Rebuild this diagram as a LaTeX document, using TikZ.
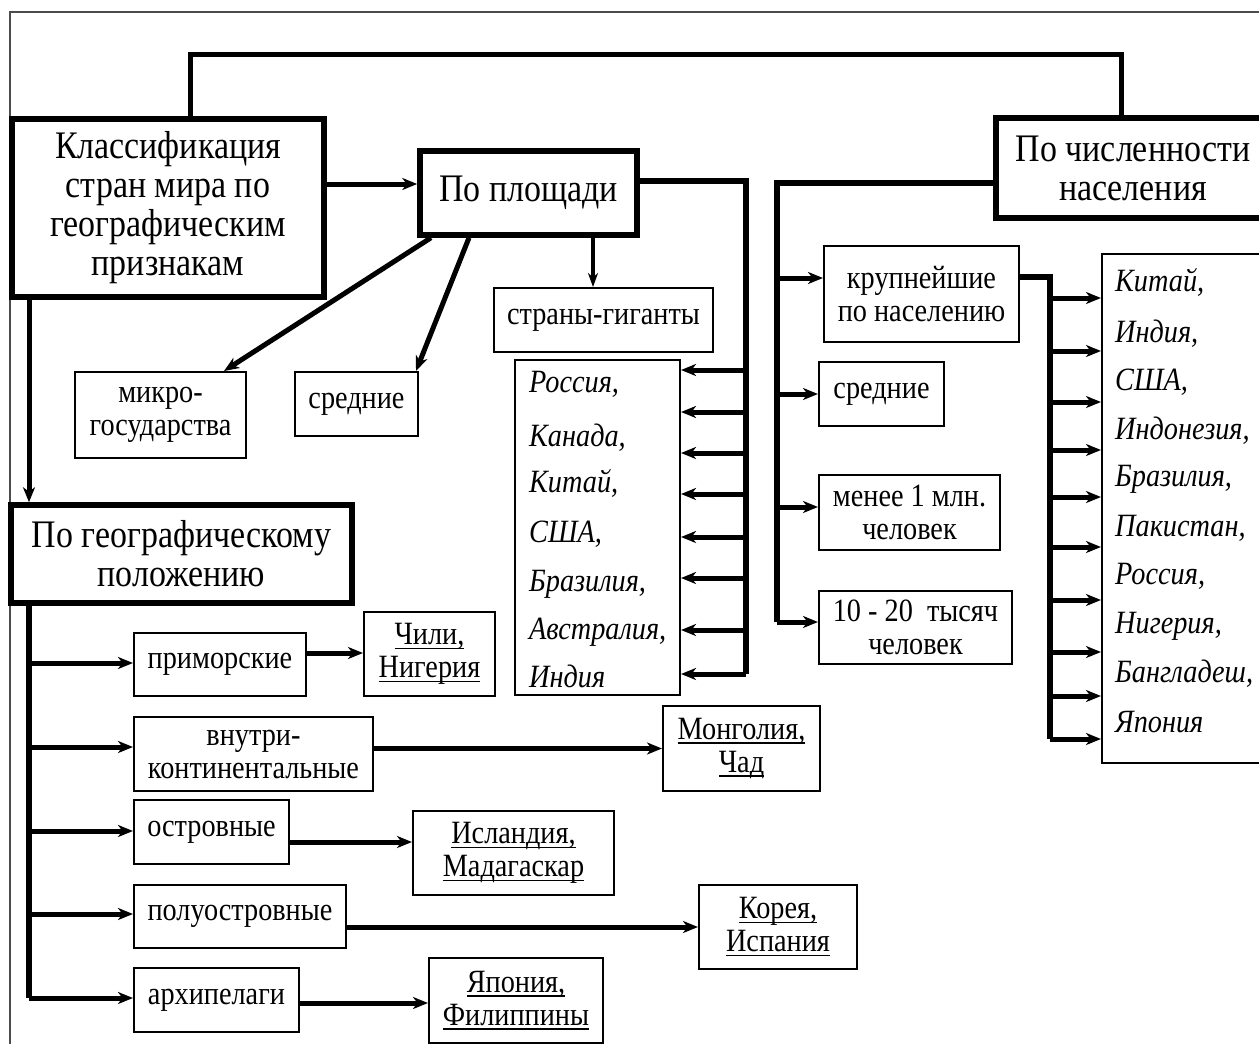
\documentclass[tikz,border=0pt]{standalone}
\usepackage{fontspec}
\setmainfont{Liberation Serif}[FakeStretch=0.87]
\usetikzlibrary{arrows.meta}
\newcommand\myul[1]{\setbox0\hbox{#1}\rlap{\rule[-4.5pt]{\wd0}{1.6pt}}\box0}
\begin{document}
\begin{tikzpicture}[x=1pt,y=-1pt,
  bigbox/.style={draw, line width=5.5pt, inner sep=0pt, align=center, font=\fontsize{39}{39}\selectfont},
  smallbox/.style={draw, line width=2pt, inner sep=0pt, align=center, font=\fontsize{32.5}{33}\selectfont},
  item/.style={anchor=base west, inner sep=0pt, font=\fontsize{32.5}{33}\selectfont\itshape},
  wire/.style={line width=5pt},
  bus/.style={line width=5.5pt},
  arr/.style={line width=5pt, -{Stealth[length=15pt,width=12pt,inset=4.5pt]}},
  thinarr/.style={line width=3.5pt, -{Stealth[length=14pt,width=10pt,inset=4.5pt]}},
]
\useasboundingbox (0,0) rectangle (1259,1044);
\clip (0,0) rectangle (1259,1044);
\draw[line width=2pt, black!70] (10,12) rectangle (1300,1100);

% main boxes
\node[bigbox, minimum width=312pt, minimum height=178pt] (main) at (168,208) {Классификация\\стран мира по\\географическим\\признакам};
\node[bigbox, minimum width=217pt, minimum height=84pt] (area) at (528.5,193) {По площади};
\node[bigbox, minimum width=274pt, minimum height=100pt] (pop) at (1133,168) {По численности\\населения};
\node[bigbox, minimum width=341pt, minimum height=98pt] (geo) at (181.5,554) {По географическому\\положению};

% area branch
\node[smallbox, minimum width=171pt, minimum height=86pt] (micro) at (160.5,415) {микро-\\государства};
\node[smallbox, minimum width=123pt, minimum height=64pt] (mid1) at (356.5,404) {средние};
\node[smallbox, minimum width=219pt, minimum height=64pt] (giant) at (603.5,320) {страны-гиганты};
\node[smallbox, minimum width=165pt, minimum height=335pt] (list1) at (597.5,527.5) {};
\foreach \t/\y [count=\i] in {{Россия,}/392,{Канада,}/446,{Китай,}/492,{США,}/542,{Бразилия,}/591,{Австралия,}/639,{Индия}/687}
  \node[item] (la\i) at (529,\y) {\t};

% population branch
\node[smallbox, minimum width=195pt, minimum height=96pt] (big) at (921.5,294) {крупнейшие\\по населению};
\node[smallbox, minimum width=125pt, minimum height=64pt] (mid2) at (881.5,394) {средние};
\node[smallbox, minimum width=181pt, minimum height=75pt] (less) at (909.5,512.5) {менее 1 млн.\\человек};
\node[smallbox, minimum width=193pt, minimum height=73pt] (tens) at (915.5,627.5) {10 - 20\ \ тысяч\\человек};
\node[smallbox, minimum width=188pt, minimum height=509pt] (list2) at (1196,508.5) {};
\foreach \t/\y [count=\i] in {{Китай,}/291,{Индия,}/342,{США,}/390,{Индонезия,}/439,{Бразилия,}/486,{Пакистан,}/536,{Россия,}/584,{Нигерия,}/633,{Бангладеш,}/682,{Япония}/732}
  \node[item] (lb\i) at (1115,\y) {\t};

% geographic branch
\node[smallbox, minimum width=172pt, minimum height=63pt] (sea) at (220,664.5) {приморские};
\node[smallbox, minimum width=131pt, minimum height=84pt] (chile) at (429.5,654) {\myul{Чили,}\\\myul{Нигерия}};
\node[smallbox, minimum width=239pt, minimum height=74pt] (inland) at (253.5,754) {внутри-\\континентальные};
\node[smallbox, minimum width=157pt, minimum height=85pt] (mong) at (741.5,748.5) {\myul{Монголия,}\\\myul{Чад}};
\node[smallbox, minimum width=155pt, minimum height=64pt] (isl) at (211.5,832) {островные};
\node[smallbox, minimum width=201pt, minimum height=84pt] (icel) at (513.5,853) {\myul{Исландия,}\\\myul{Мадагаскар}};
\node[smallbox, minimum width=212pt, minimum height=63pt] (pen) at (240,916.5) {полуостровные};
\node[smallbox, minimum width=158pt, minimum height=84pt] (korea) at (778,927) {\myul{Корея,}\\\myul{Испания}};
\node[smallbox, minimum width=165pt, minimum height=64pt] (arch) at (216.5,1000) {архипелаги};
\node[smallbox, minimum width=174pt, minimum height=85pt] (japan) at (516,1000.5) {\myul{Япония,}\\\myul{Филиппины}};

% helper coordinates
\coordinate (t1) at (190,54);
\coordinate (t2) at (1121,54);
\coordinate (trunk) at (29,0);
\coordinate (g1) at (593,0);
\coordinate (bus1) at (746,0);
\coordinate (bus2) at (777,0);
\coordinate (bus3) at (1050,0);

% top link
\draw[wire] (main.north -| t1) -- (t1) -- (t2) -- (t2 |- pop.north);
% main -> area, main -> geo
\draw[arr] (main.east |- 0,184) -- (area.west |- 0,184);
\draw[arr] (main.south -| trunk) -- (geo.north -| trunk);
% area -> sub
\draw[arr] ([xshift=-97.5pt]area.south) -- ([xshift=63.5pt]micro.north);
\draw[arr] ([xshift=-59.5pt]area.south) -- ([xshift=59.5pt]mid1.north);
\draw[thinarr] (area.south -| g1) -- (giant.north -| g1);
% area bus
\draw[bus] (area.east |- 0,181) -| (bus1 |- 0,674);
\foreach \y in {370,412,453,494,537,578,630,674}
  \draw[arr] (bus1 |- 0,\y) -- (list1.east |- 0,\y);
% population bus
\draw[bus] (pop.west |- 0,183) -| (bus2 |- 0,622);
\draw[arr] (bus2 |- 0,278) -- (big.west |- 0,278);
\draw[arr] (bus2 |- mid2.west) -- (mid2.west);
\draw[arr] (bus2 |- 0,507) -- (less.west |- 0,507);
\draw[arr] (bus2 |- 0,622) -- (tens.west |- 0,622);
% largest bus
\draw[bus] (big.east |- 0,277) -| (bus3 |- 0,739);
\foreach \y in {298,351,402,450,497,547,600,652,696,739}
  \draw[arr] (bus3 |- 0,\y) -- (list2.west |- 0,\y);
% geo trunk
\draw[bus] (geo.south -| trunk) -- (trunk |- 0,998);
\draw[arr] (trunk |- 0,663) -- (sea.west |- 0,663);
\draw[arr] (trunk |- 0,747) -- (inland.west |- 0,747);
\draw[arr] (trunk |- 0,831) -- (isl.west |- 0,831);
\draw[arr] (trunk |- 0,914) -- (pen.west |- 0,914);
\draw[arr] (trunk |- 0,998) -- (arch.west |- 0,998);
% geo examples
\draw[arr] (sea.east |- 0,653) -- (chile.west |- 0,653);
\draw[arr] (inland.east |- mong.west) -- (mong.west);
\draw[arr] (isl.east |- 0,842) -- (icel.west |- 0,842);
\draw[arr] (pen.east |- korea.west) -- (korea.west);
\draw[arr] (arch.east |- 0,1003) -- (japan.west |- 0,1003);
\end{tikzpicture}
\end{document}
